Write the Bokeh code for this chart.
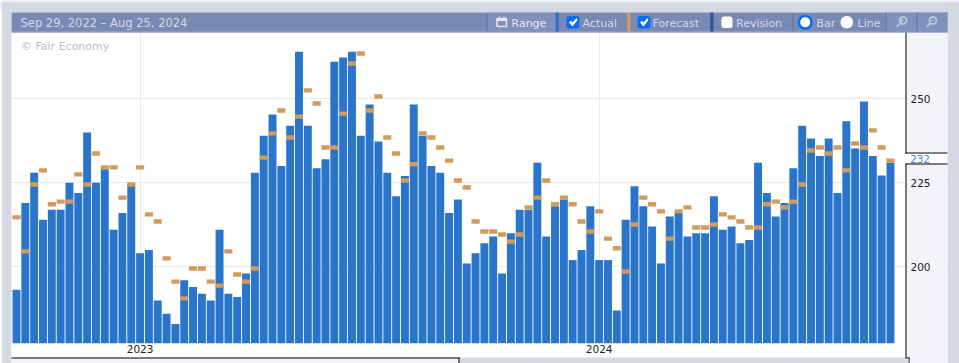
from bokeh.plotting import figure
from bokeh.models import (Range1d, LinearAxis, FixedTicker, BoxAnnotation, Label, PolyAnnotation, Grid)
from bokeh.embed import file_html
from bokeh.resources import INLINE

date_range = "Sep 29, 2022 – Aug 25, 2024"
credit = "© Fair Economy"
latest_label = "232"
year_labels = ["2023", "2024"]
year_index = [14, 66]
y_ticks = [200, 225, 250]

actual = [193.2, 219, 228, 214, 217, 217, 225, 222, 240, 225, 229, 211, 216, 224.5, 204, 205, 190, 186, 183, 196,
          194, 192, 190, 211, 192, 191, 198, 228, 239, 245.3, 230, 242, 264, 242, 229.3, 232, 261, 262.3, 264, 239,
          248.3, 237.3, 228, 221, 227, 248.3, 239, 230, 228, 216, 220, 201, 204, 207, 209, 198, 210, 217, 217, 231,
          209, 218, 220, 202, 205, 218, 202, 202, 187, 214, 224, 218, 212, 201, 215, 216, 209, 210, 210, 221,
          211, 212, 207, 208, 231, 222, 215, 219, 229.3, 242, 238.2, 233, 238.2, 222, 243.3, 235.2, 249.2, 233, 227.2, 231]
forecast = [214.7, 204.6, 224.5, 228.7, 218.6, 219.4, 219.4, 227.5, 224.5, 233.7, 229.6, 229.6, 220.6, 224.5, 229.6, 215.6, 213.5, 202.5, 195.6, 190.6,
            199.5, 199.5, 195.6, 194.4, 204.6, 197.7, 195.6, 199.5, 232.5, 239.7, 246.5, 238.5, 244.7, 252.5, 248.6, 235.5, 235.5, 245.6, 260.5, 263.5,
            246.5, 250.7, 238.5, 233.7, 225.7, 230.5, 239.7, 238.5, 235.5, 231.6, 225.7, 223.6, 213.5, 210.5, 210.5, 209.6, 207.5, 209.6, 217.7, 220.6,
            225.7, 218.6, 220.6, 218.6, 213.5, 210.5, 216.5, 208.4, 205.5, 198.6, 212.6, 220.6, 218.6, 216.5, 208.4, 216.5, 217.7, 211.7, 211.7, 212.6,
            215.6, 214.7, 213.5, 211.7, 211.7, 218.6, 219.4, 217.7, 219.4, 224.5, 234.6, 235.5, 233.7, 235.5, 228.7, 236.7, 235.5, 240.6, 235.5, 231.6]
weeks = list(range(len(actual)))

GRAY = "#d5d9e2"; PANEL = "#f3f4f9"; HEAD = "#788ab4"; HEAD2 = "#8091bb"; EDGE = "#5b72a8"
BLUE = "#2a75cc"; ORANGE = "#d39b5b"; NAVY = "#2f5597"; GRID = "#e8e9f3"
TXT = "#d3d8e6"; FONT = "DejaVu Sans"

W, H = 959, 363
FL, FR, FT, FB = 11, 905, 32, 343
ymin = 177.2
# the frame fills the whole page; ranges place the weeks and values at their pixels
X0, DX = 16.0, 8.828
Y200, DY = 266.3, 3.36
x_range = Range1d((0 - X0) / DX, (W - X0) / DX)
y_range = Range1d(200 - (H - Y200) / DY, 200 + Y200 / DY)

p = figure(width=W, height=H, output_backend="svg", toolbar_location=None,
           x_range=x_range, y_range=y_range, x_axis_location=None, y_axis_location=None,
           min_border=0, min_border_left=0, min_border_right=0, min_border_top=0, min_border_bottom=0,
           border_fill_color="white", background_fill_color="white", outline_line_color=None)
p.grid.visible = False


def sx(v):
    return v


def sy(v):
    return H - v


def box(l, t, r, b, fill, line=None, lw=1, radius=0, level="glyph"):
    p.add_layout(BoxAnnotation(left=sx(l), right=sx(r), top=sy(t), bottom=sy(b),
                               left_units="screen", right_units="screen", top_units="screen", bottom_units="screen",
                               fill_color=fill, fill_alpha=1 if fill else 0, line_color=line, line_width=lw,
                               line_alpha=1 if line else 0, border_radius=radius, level=level))


def poly(pts, fill=None, line=None, lw=1):
    p.add_layout(PolyAnnotation(xs=[sx(a) for a, _ in pts], ys=[sy(b) for _, b in pts],
                                xs_units="screen", ys_units="screen", fill_color=fill, fill_alpha=1 if fill else 0,
                                line_color=line, line_width=lw, line_alpha=1 if line else 0, level="overlay"))


def text(x, y, s, color=TXT, size="11px"):
    p.add_layout(Label(x=sx(x), y=sy(y), text=s, x_units="screen", y_units="screen", text_color=color,
                       text_font=FONT, text_font_size=size, text_baseline="middle", text_align="left"))


# chart
p.add_layout(Grid(dimension=0, ticker=FixedTicker(ticks=year_index), grid_line_color=GRID, grid_line_width=1))
p.add_layout(Grid(dimension=1, ticker=FixedTicker(ticks=y_ticks), grid_line_color=GRID, grid_line_width=1))

p.vbar(x=weeks, top=actual, bottom=ymin, width=0.9, fill_color=BLUE, line_color=None)
p.rect(x=weeks, y=forecast, width=0.92, height=4.4, height_units="screen", fill_color=ORANGE, line_color=None)

# surrounding panels (mask the grid outside the plot)
box(0, 0, W, 12, GRAY)
box(0, 0, W, 2, "#eceef3")
box(1, 2, FL, H, GRAY)
box(947, 2, W, H, GRAY)
box(0, 0, 1, H, "white")
box(FL, FB, FR, 357, "white")
box(FL, 357, 458, H, PANEL)
box(458, 357, 905, H, GRAY)
box(905, 32, 947, H, PANEL)
box(905, 152, 947, 163, "white")
box(FL, 357, 459, 358, "black")
box(458, 357, 459, H, "black")
box(905, 32, 906, 153, "black")
box(905, 152, 947, 153, "black")
box(905, 163, 947, 164, "black")
box(905, 163, 906, 358, "black")
box(905, 357, 909, 358, "black")
box(908, 357, 909, H, "black")
box(905, 358, 908, H, GRAY)

# header strip
box(FL, 12, 947, 31, HEAD)
box(FL, 31, 947, 32, EDGE)
box(487, 12, 555, 31, HEAD2)
box(885, 12, 947, 31, HEAD2)
for xs_ in (486, 792, 885, 916):
    box(xs_, 12, xs_ + 1, 31, EDGE)
box(555, 12, 558.5, 31, BLUE)
box(626.5, 12, 630, 31, ORANGE)
box(709.7, 12, 713, 31, NAVY)

box(566, 15.5, 579, 28, "#0a6cf5", radius=3)
box(637, 15.5, 650, 28, "#0a6cf5", radius=3)
box(720.5, 15.5, 732.5, 28, "white", line="#8a8f9c", radius=3)
for cx in (566, 637):
    poly([(cx + 2.5, 22), (cx + 4.5, 20.2), (cx + 6, 22), (cx + 10, 17.5), (cx + 11, 19.5), (cx + 6, 26)], fill="white")
box(798.5, 15.5, 811, 28, "white", line="#0a6cf5", lw=2.5, radius=6)
box(840, 15.5, 852.5, 28, "white", radius=6)

# calendar icon
box(496.5, 18, 506, 26, None, line="#e4e7f0", lw=1.5)
box(496.5, 18, 506, 20.5, "#e4e7f0")
box(498.5, 16, 499.5, 18, "#e4e7f0")
box(503, 16, 504, 18, "#e4e7f0")
# zoom icons
for cx in (902, 932):
    box(cx - 3, 16.5, cx + 4, 23.5, None, line="#b8c2da", lw=2, radius=4)
    poly([(cx - 3, 22), (cx - 1.5, 23.5), (cx - 5, 27), (cx - 6.5, 25.5)], fill="#b8c2da")
box(898.5, 19.5, 903.5, 20.5, "#b8c2da")
box(900.5, 17.5, 901.5, 22.5, "#b8c2da")
box(928.5, 19.5, 933.5, 20.5, "#b8c2da")

text(20, 22.5, date_range, size="11.5px")
text(511, 22.5, "Range", color="#e4e7f0")
text(582, 22.5, "Actual")
text(652, 22.5, "Forecast")
text(735.5, 22.5, "Revision")
text(816, 22.5, "Bar")
text(857, 22.5, "Line")
text(20.5, 45.5, credit, color="#bdbdbd", size="11px")
text(909.5, 158.5, latest_label, color="#4a8ad8", size="10.5px")

xa = LinearAxis(ticker=FixedTicker(ticks=year_index), fixed_location=ymin)
xa.major_label_overrides = dict(zip(year_index, year_labels))
xa.axis_line_color = None
xa.major_tick_line_color = None
xa.major_tick_out = 0
xa.major_tick_in = 0
xa.minor_tick_line_color = None
xa.major_label_standoff = 2
xa.major_label_text_font = FONT
xa.major_label_text_font_size = "10.5px"
xa.major_label_text_color = "#222222"
p.add_layout(xa, "below")

ya = LinearAxis(ticker=FixedTicker(ticks=y_ticks), fixed_location=(FR - X0) / DX)
ya.axis_line_color = None
ya.major_tick_line_color = None
ya.major_tick_out = 0
ya.major_tick_in = 0
ya.minor_tick_line_color = None
ya.major_label_standoff = 5
ya.major_label_text_font = FONT
ya.major_label_text_font_size = "10.5px"
ya.major_label_text_color = "#222222"
p.add_layout(ya, "right")

open("out.html", "w").write(file_html(p, INLINE))
